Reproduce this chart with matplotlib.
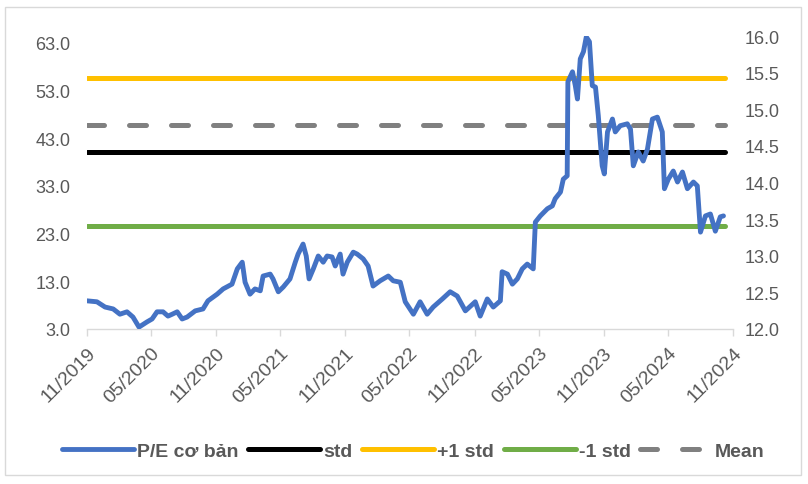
import matplotlib
matplotlib.use("Agg")
import matplotlib.pyplot as plt
import matplotlib.dates as mdates
import pandas as pd
from matplotlib.patches import Rectangle

dates = [
    "2019-11-01", "2019-11-29", "2019-12-22", "2020-01-14", "2020-02-02", "2020-02-22",
    "2020-03-10", "2020-03-27", "2020-04-19", "2020-05-03", "2020-05-17", "2020-06-03",
    "2020-06-17", "2020-06-29", "2020-07-13", "2020-07-27", "2020-08-10", "2020-09-02",
    "2020-09-24", "2020-10-08", "2020-10-23", "2020-11-03", "2020-11-20", "2020-12-15",
    "2020-12-30", "2021-01-13", "2021-01-21", "2021-02-04", "2021-02-18", "2021-03-05",
    "2021-03-13", "2021-04-02", "2021-04-10", "2021-04-25", "2021-05-09", "2021-05-28",
    "2021-06-12", "2021-06-20", "2021-07-04", "2021-07-13", "2021-07-21", "2021-08-02",
    "2021-08-16", "2021-08-30", "2021-09-10", "2021-09-24", "2021-10-03", "2021-10-17",
    "2021-10-25", "2021-11-06", "2021-11-23", "2021-12-04", "2021-12-21", "2022-01-04",
    "2022-01-18", "2022-02-07", "2022-03-02", "2022-03-16", "2022-04-05", "2022-04-19",
    "2022-05-12", "2022-05-31", "2022-06-20", "2022-07-07", "2022-08-02", "2022-08-24",
    "2022-09-13", "2022-10-06", "2022-11-03", "2022-11-17", "2022-12-07", "2022-12-24",
    "2023-01-13", "2023-01-18", "2023-02-02", "2023-02-16", "2023-03-02", "2023-03-16",
    "2023-03-30", "2023-04-16", "2023-04-22", "2023-05-06", "2023-05-26", "2023-06-09",
    "2023-06-17", "2023-07-02", "2023-07-10", "2023-07-21", "2023-07-23", "2023-08-05",
    "2023-08-13", "2023-08-19", "2023-08-27", "2023-09-05", "2023-09-13", "2023-09-22",
    "2023-09-30", "2023-10-09", "2023-10-17", "2023-10-28", "2023-11-03", "2023-11-12",
    "2023-11-26", "2023-12-04", "2023-12-18", "2024-01-07", "2024-01-16", "2024-01-24",
    "2024-02-07", "2024-02-21", "2024-03-04", "2024-03-18", "2024-04-01", "2024-04-15",
    "2024-04-21", "2024-05-02", "2024-05-16", "2024-05-28", "2024-06-11", "2024-06-25",
    "2024-07-12", "2024-07-23", "2024-08-01", "2024-08-15", "2024-08-29", "2024-09-12",
    "2024-09-26", "2024-10-05",
]
pe_values = [
    8.9, 8.7, 7.6, 7.2, 6.1, 6.6,
    5.5, 3.4, 4.5, 5.1, 6.6, 6.6,
    5.7, 6.1, 6.6, 5.1, 5.5, 6.8,
    7.2, 8.9, 9.7, 10.3, 11.4, 12.4,
    15.6, 17.0, 12.8, 10.3, 11.4, 11.0,
    14.1, 14.5, 13.5, 10.8, 11.8, 13.5,
    17.0, 18.7, 20.8, 18.3, 13.5, 15.6,
    18.3, 17.0, 18.3, 18.1, 16.2, 18.7,
    14.5, 17.0, 19.1, 18.7, 17.7, 16.2,
    12.0, 13.1, 14.1, 13.1, 12.8, 8.7,
    6.1, 8.7, 6.1, 7.6, 9.3, 10.8,
    9.9, 6.8, 8.7, 5.7, 9.3, 7.6,
    8.9, 15.0, 14.5, 12.4, 13.5, 15.6,
    16.6, 15.6, 25.4, 26.7, 28.2, 28.8,
    30.3, 31.7, 34.4, 35.1, 54.8, 56.9,
    54.0, 51.2, 59.6, 61.1, 64.2, 63.2,
    54.0, 53.7, 47.7, 37.2, 35.5, 44.3,
    47.0, 44.3, 45.6, 46.0, 44.9, 37.2,
    40.1, 38.2, 40.7, 47.0, 47.4, 44.3,
    32.4, 34.4, 36.1, 33.8, 35.9, 32.4,
    33.8, 33.0, 23.3, 26.7, 27.1, 23.5,
    26.5, 26.7,
]

std_value = 40.1
plus_std_value = 55.6
minus_std_value = 24.6
mean_value = 45.8

left_ticks = [3.0, 13.0, 23.0, 33.0, 43.0, 53.0, 63.0]
right_ticks = [12.0, 12.5, 13.0, 13.5, 14.0, 14.5, 15.0, 15.5, 16.0]
x_start = "2019-11-01"
x_end = "2024-11-01"
line_end = "2024-10-08"

labels = ["P/E cơ bản", "std", "+1 std", "-1 std", "Mean"]

dt = pd.to_datetime(dates)
xs, xe, le = pd.Timestamp(x_start), pd.Timestamp(x_end), pd.Timestamp(line_end)

fig = plt.figure(figsize=(8.08, 4.85), dpi=100)
fig.patches.append(Rectangle((0.006, 0.018), 0.985, 0.965, transform=fig.transFigure,
                             fill=False, edgecolor="#d9d9d9", linewidth=1.0))
ax = fig.add_axes([0.1077, 0.3196, 0.7995, 0.6041])
ax2 = ax.twinx()

font = "Liberation Sans"
tc = "#595959"

l1, = ax.plot(dt, pe_values, color="#4472C4", lw=3.5, solid_joinstyle="round",
              solid_capstyle="round", zorder=5)
l2, = ax.plot([xs, le], [std_value, std_value], color="#000000", lw=3.6,
              solid_capstyle="round", zorder=3)
l3, = ax.plot([xs, le], [plus_std_value, plus_std_value], color="#FFC000", lw=3.6,
              solid_capstyle="round", zorder=3)
l4, = ax.plot([xs, le], [minus_std_value, minus_std_value], color="#70AD47", lw=3.6,
              solid_capstyle="round", zorder=3)
l5, = ax.plot([xs, le], [mean_value, mean_value], color="#808080", lw=3.6,
              dashes=(3.4, 5.0), dash_capstyle="round", zorder=3)

ax.set_xlim(xs, xe)
ax.set_ylim(3.0, 64.4)
ax.set_yticks(left_ticks)
ax.set_yticklabels([f"{v:.1f}" for v in left_ticks], fontsize=13, color=tc, family=font)
ax2.set_ylim(12.0, 16.0)
ax2.set_yticks(right_ticks)
ax2.set_yticklabels([f"{v:.1f}" for v in right_ticks], fontsize=13, color=tc, family=font)

ax.xaxis.set_major_locator(mdates.MonthLocator(bymonth=[5, 11], bymonthday=1))
ax.xaxis.set_major_formatter(mdates.DateFormatter("%m/%Y"))
for lab in ax.get_xticklabels():
    lab.set_rotation(45)
    lab.set_ha("right")
    lab.set_rotation_mode("anchor")
    lab.set_fontsize(14)
    lab.set_color(tc)
    lab.set_family(font)

for a in (ax, ax2):
    for s in ("top", "left", "right", "bottom"):
        a.spines[s].set_visible(False)
ax.spines["bottom"].set_visible(True)
ax.spines["bottom"].set_color("#d9d9d9")
ax.spines["bottom"].set_linewidth(1.0)
ax.tick_params(axis="x", length=5, color="#d9d9d9", width=1.0, pad=6)
ax.tick_params(axis="y", length=0, pad=12)
ax2.tick_params(axis="y", length=0, pad=8)
ax2.tick_params(axis="x", length=0)

leg = fig.legend([l1, l2, l3, l4, l5], labels, loc="center", bbox_to_anchor=(0.512, 0.068),
                 ncol=5, frameon=False, handlelength=3.7, handletextpad=0.15,
                 columnspacing=0.5, prop={"family": font, "weight": "bold", "size": 14})
for t in leg.get_texts():
    t.set_color(tc)

fig.savefig("out.png", dpi=100)
